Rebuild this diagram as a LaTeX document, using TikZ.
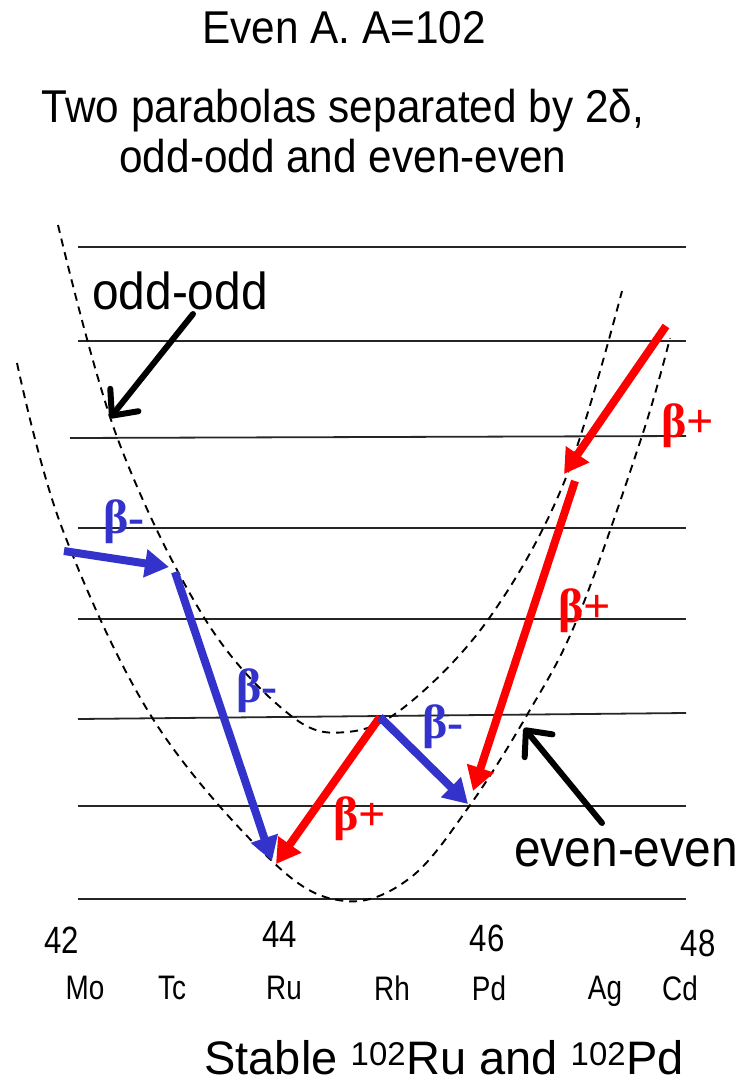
\documentclass[tikz,border=0pt]{standalone}
\usepackage{fontspec}
\setmainfont{Liberation Sans}
\newfontfamily\narrowsf[FakeStretch=0.92]{Liberation Sans}
\newfontfamily\condsf[FakeStretch=0.82]{Liberation Sans}
\newfontfamily\betafont{Liberation Serif}
\usetikzlibrary{arrows.meta, positioning}
\definecolor{decblue}{RGB}{51,51,204}
\definecolor{decred}{RGB}{255,0,0}

\begin{document}
\begin{tikzpicture}[x=1pt, y=-1pt,
    level/.style={draw=black!85, line width=1.8pt},
    mass/.style={draw=black, line width=1.9pt, dash pattern=on 8pt off 6pt},
    decay/.style={line width=8pt, -{Triangle[length=24pt,width=27pt]}},
    pointer/.style={draw=black, line width=6pt, line cap=round, -{Straight Barb[length=20pt,width=36pt,round]}},
    heading/.style={font=\narrowsf\fontsize{46}{50}\selectfont, align=center, inner sep=0pt},
    tag/.style={font=\narrowsf\fontsize{52}{52}\selectfont, inner sep=0pt, anchor=base},
    znum/.style={font=\condsf\fontsize{38}{38}\selectfont, inner sep=0pt},
    elem/.style={font=\condsf\fontsize{34}{34}\selectfont, inner sep=0pt},
    beta/.style={font=\betafont\bfseries\fontsize{48}{48}\selectfont, inner sep=0pt}]
    \useasboundingbox (0,0) rectangle (739,1084);

    % headings
    \node[heading] (ttl) at (344,28) {Even A. A=102};
    \node[heading] (sub) at (343,131) {Two parabolas separated by 2δ,\\odd-odd and even-even};

    % energy levels
    \foreach \ly in {247,341,528,619,806,899}
        \draw[level] (78,\ly) -- (686,\ly);
    \draw[level] (70,438) -- (686,436);
    \draw[level] (78,719) -- (686,713);

    % mass parabolas
    \draw[mass] plot[smooth, tension=0.6] coordinates {(58,225) (117,437) (205,619) (290,715)
        (347,732) (407,705) (490,617) (565,480) (622,291)};
    \draw[mass] plot[smooth, tension=0.6] coordinates {(17,363) (62,528) (153,719) (273,862)
        (345,901) (410,878) (468,808) (527,715) (578,617) (642,436) (670,338)};

    % nuclei on the parabolas
    \coordinate (mo) at (64,551);
    \coordinate (tcin) at (169,567);
    \coordinate (tcout) at (175,572);
    \coordinate (ruA) at (272,861);
    \coordinate (ruB) at (276,864);
    \coordinate (rh) at (380,717);
    \coordinate (pdA) at (468,804);
    \coordinate (pdB) at (473,791);
    \coordinate (agin) at (564,474);
    \coordinate (agout) at (575,481);
    \coordinate (cd) at (666,326);

    % decays
    \draw[decay, decblue] (mo) -- (tcin);
    \draw[decay, decblue] (tcout) -- (ruA);
    \draw[decay, decred] (rh) -- (ruB);
    \draw[decay, decblue] (rh) -- (pdA);
    \draw[decay, decred] (agout) -- (pdB);
    \draw[decay, decred] (cd) -- (agin);

    \node[beta, text=decblue] (bm1) at (124,522) {β-};
    \node[beta, text=decblue] (bm2) at (257,691) {β-};
    \node[beta, text=decblue] (bm3) at (443,727) {β-};
    \node[beta, text=decred] (bp1) at (360,819) {β+};
    \node[beta, text=decred] (bp2) at (585,611) {β+};
    \node[beta, text=decred] (bp3) at (688,426) {β+};

    % parabola tags
    \node[tag] (oo) at (180,309) {odd-odd};
    \node[tag] (ee) at (626,866) {even-even};
    \coordinate (ootail) at (193,314);
    \coordinate (oohead) at (110,418);
    \coordinate (eetail) at (602,823);
    \coordinate (eehead) at (524,728);
    \draw[pointer] (ootail) -- (oohead);
    \draw[pointer] (eetail) -- (eehead);

    % Z axis
    \node[znum] (z42) at (62,940) {42};
    \node[znum] (z44) at (280,934) {44};
    \node[znum] (z46) at (487,938) {46};
    \node[znum] (z48) at (698,943) {48};
    \node[elem] (mo-l) at (85,988) {Mo};
    \node[elem] (tc-l) at (172,988) {Tc};
    \node[elem] (ru-l) at (284,988) {Ru};
    \node[elem] (rh-l) at (392,988) {Rh};
    \node[elem] (pd-l) at (489,988) {Pd};
    \node[elem] (ag-l) at (605,991) {Ag};
    \node[elem] (cd-l) at (680,988) {Cd};

    \node[font=\fontsize{47}{47}\selectfont, inner sep=0pt] (stable) at (444,1058)
        {Stable \textsuperscript{102}Ru and \textsuperscript{102}Pd};
\end{tikzpicture}
\end{document}
